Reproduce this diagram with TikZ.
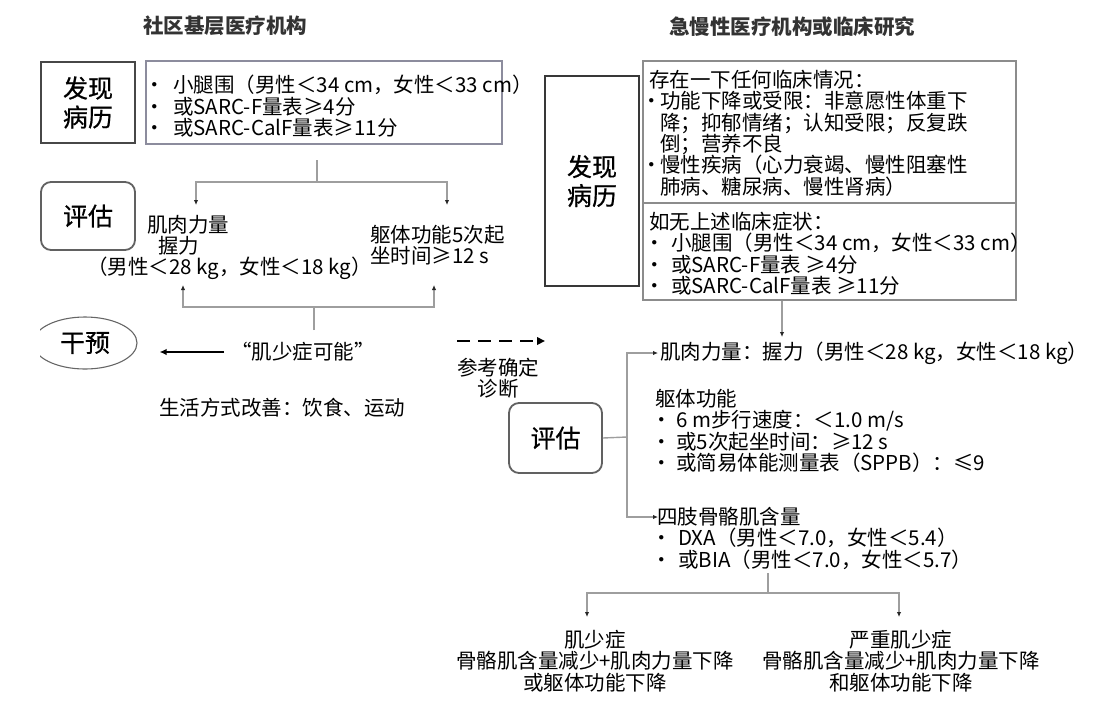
\documentclass[tikz,border=0pt]{standalone}
\usepackage{fontspec}
\setmainfont{Noto Sans CJK SC}
\newfontfamily\lblfont[FakeBold=0.6]{Noto Sans CJK SC}
\usetikzlibrary{arrows.meta,shapes.geometric}
\newcommand\txtsz{\fontsize{20.5}{21.3}\selectfont}
\newcommand\lblsz{\lblfont\fontsize{25}{29}\selectfont}
\newcommand\bul[1]{\makebox[#1][l]{\kern-8pt•}}
\begin{document}
\begin{tikzpicture}[x=1pt,y=-1pt,font=\txtsz,
  conn/.style={draw=black!38,line width=1.4pt},
  arr/.style={-{Latex[length=5pt,width=4.5pt,color=black!85]}},
  lbl/.style={draw=black!72,line width=1.8pt,font=\lblsz,align=center,inner sep=0pt},
  rlbl/.style={lbl,rounded corners=10pt,draw=black!62},
  critbox/.style={draw=black!45,line width=1.6pt,inner sep=0pt},
  txt/.style={anchor=north west,inner sep=0pt,align=left},
  ttl/.style={font=\txtsz\bfseries,text=black!80}]
  \useasboundingbox (0,0) rectangle (1097,726);
  \node[ttl] (tl) at (225,26) {社区基层医疗机构};
  \node[ttl] (tr) at (792,27) {急慢性医疗机构或临床研究};
  \node[lbl,minimum width=94pt,minimum height=81pt] (fx1) at (88,102.5) {发现\\病历};
  \node[critbox,draw=blue!15!black!45,minimum width=356pt,minimum height=83pt] (c1) at (324,102.5) {};
  \node[txt] (c1t) at (152,75) {\bul{21pt}小腿围（男性＜34 cm，女性＜33 cm）\\
    \bul{21pt}或SARC-F量表≥4分\\
    \bul{21pt}或SARC-CalF量表≥11分};
  \node[rlbl,minimum width=94pt,minimum height=68pt] (pg1) at (88,216) {评估};
  \node[txt] (grip1) at (87,215) {\hspace*{60pt}肌肉力量\\
    \hspace*{71pt}握力\\
    （男性＜28 kg，女性＜18 kg）};
  \node[txt] (sit1) at (370,225) {躯体功能5次起\\坐时间≥12 s};
  \coordinate (j1) at (317,160);
  \coordinate (j2) at (317,182);
  \coordinate (a1) at (196,205);
  \coordinate (a2) at (447,205);
    \draw[conn] (j1) -- (j2);
    \draw[conn,arr] (j2) -| (a1);
    \draw[conn,arr] (j2) -| (a2);
  \coordinate (k1) at (314,330);
  \coordinate (k2) at (314,307);
  \coordinate (b1) at (183,285);
  \coordinate (b2) at (434,285);
    \draw[conn] (k1) -- (k2);
    \draw[conn,arr] (k2) -| (b1);
    \draw[conn,arr] (k2) -| (b2);
  \begin{scope}
    \clip (40,300) rectangle (200,400);
    \node[ellipse,draw=black!60,line width=1.1pt,minimum width=104pt,minimum height=52pt,font=\lblsz,inner sep=0pt] (gy) at (85,343) {干预};
  \end{scope}
  \node[inner sep=0pt] (poss) at (303,352) {“肌少症可能”};
  \coordinate (p0) at (224,352);
    \draw[line width=2.4pt,-{Latex[length=7pt,width=6.5pt]}] (p0) -- ([xshift=22pt]gy.east |- p0);
  \node (life) at (282,408) {生活方式改善：饮食、运动};
  \coordinate (d1) at (457,341);
  \coordinate (d2) at (545,341);
    \draw[line width=2.8pt,dash pattern=on 13pt off 8pt,-{Triangle[length=8pt,width=7.5pt]}] (d1) -- (d2);
  \node[align=center,inner sep=0pt] (ref) at (498,378) {参考确定\\诊断};
  \node[lbl,draw=black!78,minimum width=94pt,minimum height=210pt] (fx2) at (592,181) {发现\\病历};
  \node[critbox,minimum width=373pt,minimum height=142pt] (up2) at (829.5,132) {};
  \node[critbox,minimum width=373pt,minimum height=97pt] (lo2) at (829.5,251.5) {};
  \node[txt] (up2t) at (649,70) {存在一下任何临床情况：\\
    \bul{11pt}功能下降或受限：非意愿性体重下\\
    \hspace*{11pt}降；抑郁情绪；认知受限；反复跌\\
    \hspace*{11pt}倒；营养不良\\
    \bul{11pt}慢性疾病（心力衰竭、慢性阻塞性\\
    \hspace*{11pt}肺病、糖尿病、慢性肾病）};
  \node[txt] (lo2t) at (649,212) {如无上述临床症状：\\
    \hspace*{3pt}\bul{19pt}小腿围（男性＜34 cm，女性＜33 cm）\\
    \hspace*{3pt}\bul{19pt}或SARC-F量表 ≥4分\\
    \hspace*{3pt}\bul{19pt}或SARC-CalF量表 ≥11分};
  \coordinate (r2) at (782,337);
    \draw[conn,arr] (lo2.south -| r2) -- (r2);
  \node[rlbl,minimum width=93pt,minimum height=70pt] (pg2) at (555.5,438) {评估};
  \coordinate (e0) at (627,437);
  \coordinate (e1) at (658,353);
  \coordinate (e2) at (658,517);
    \draw[conn] (pg2.east) -- (e0);
    \draw[conn,arr] (e0) |- (e1);
    \draw[conn,arr] (e0) |- (e2);
  \node[txt,anchor=west] (grip2) at (660,353) {肌肉力量：握力（男性＜28 kg，女性＜18 kg）};
  \node[txt] (phys2) at (655,389) {躯体功能\\
    \hspace*{4pt}\bul{17pt}6 m步行速度：＜1.0 m/s\\
    \hspace*{4pt}\bul{17pt}或5次起坐时间：≥12 s\\
    \hspace*{4pt}\bul{17pt}或简易体能测量表（SPPB）：≤9};
  \node[txt] (mass2) at (657,507) {四肢骨骼肌含量\\
    \hspace*{2pt}\bul{19pt}DXA（男性＜7.0，女性＜5.4）\\
    \hspace*{2pt}\bul{19pt}或BIA（男性＜7.0，女性＜5.7）};
  \coordinate (m1) at (768,573);
  \coordinate (m2) at (768,593);
  \coordinate (s1) at (587,617);
  \coordinate (s2) at (899,617);
    \draw[conn] (m1) -- (m2);
    \draw[conn,arr] (m2) -| (s1);
    \draw[conn,arr] (m2) -| (s2);
  \node[align=center,anchor=north,inner sep=0pt] (sar) at (595,630) {肌少症\\骨骼肌含量减少+肌肉力量下降\\或躯体功能下降};
  \node[align=center,anchor=north,inner sep=0pt] (sev) at (901,630) {严重肌少症\\骨骼肌含量减少+肌肉力量下降\\和躯体功能下降};
\end{tikzpicture}
\end{document}
